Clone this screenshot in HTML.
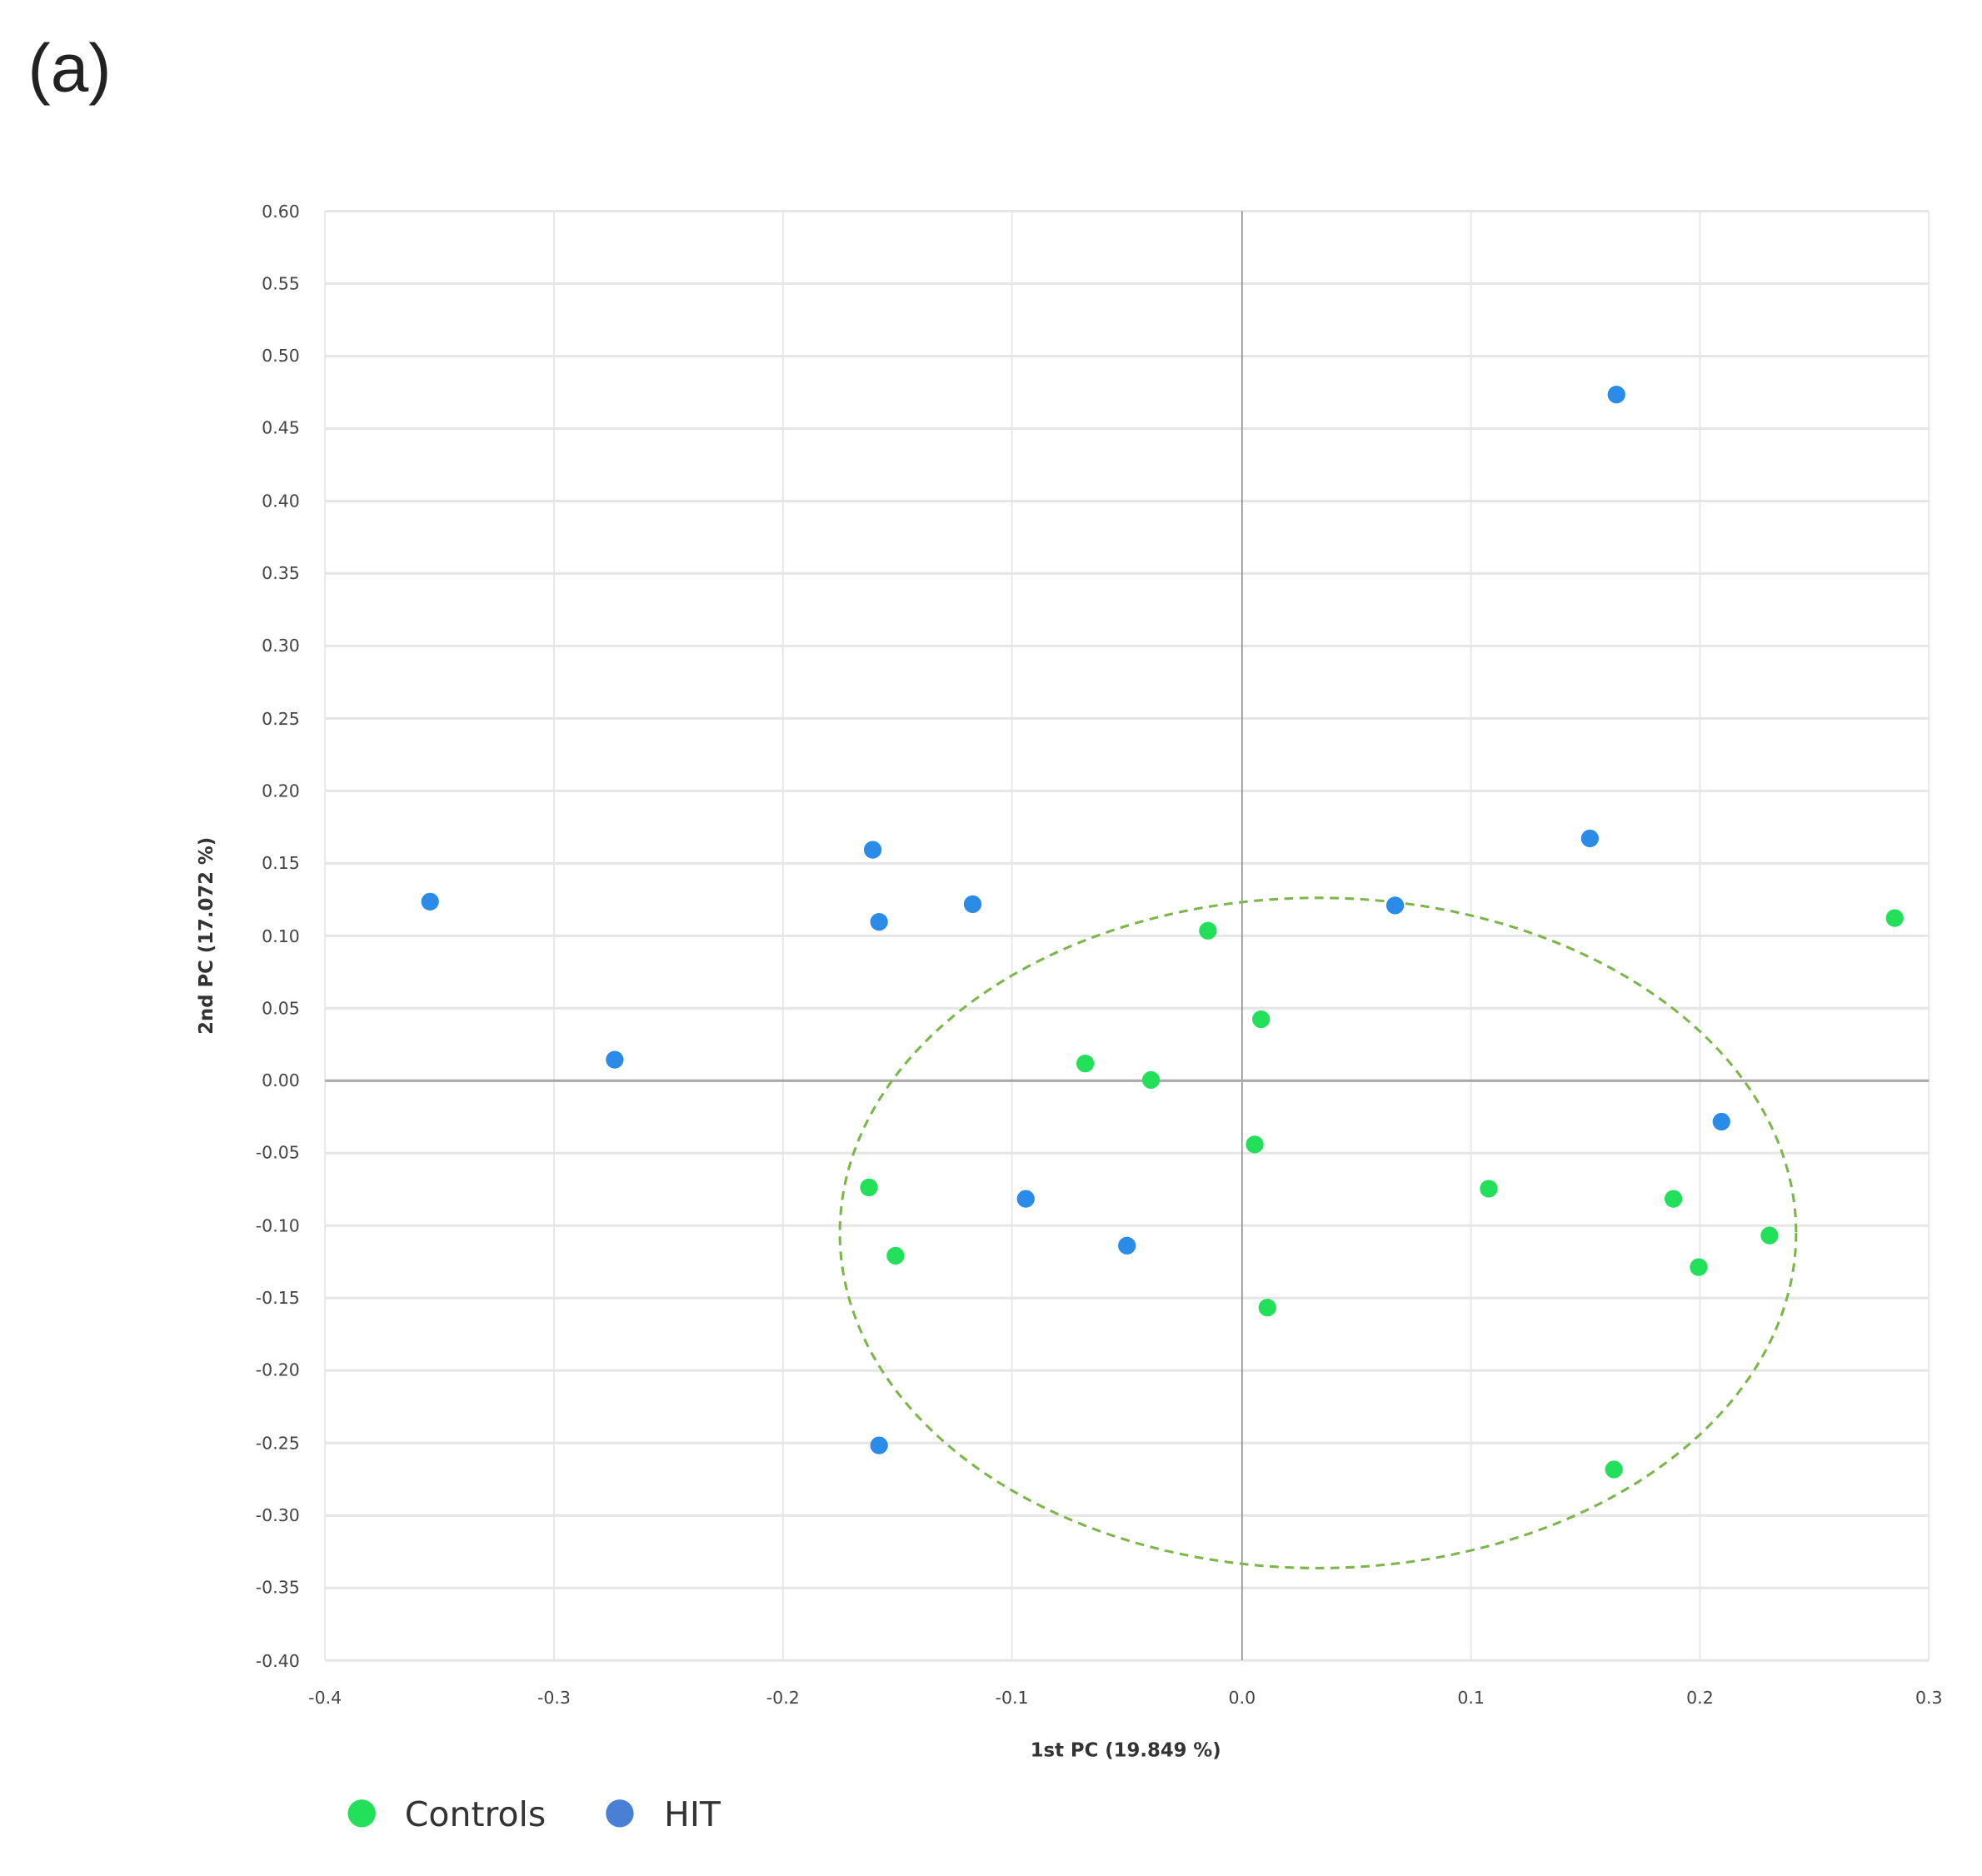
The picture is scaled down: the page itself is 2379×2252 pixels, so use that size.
<!DOCTYPE html>
<html><head><meta charset="utf-8"><style>html,body{margin:0;padding:0;background:#fff}svg{display:block}</style></head><body>
<svg width="2379" height="2252" viewBox="0 0 1567 1483.5" preserveAspectRatio="none" xmlns="http://www.w3.org/2000/svg" font-family="'DejaVu Sans','Liberation Sans',sans-serif">
<text x="22" y="72" font-size="54" font-family="'Liberation Sans',sans-serif" fill="#222">(a)</text>
<g stroke="#e6e6e6" stroke-width="2">
<line x1="257" y1="167" x2="1525" y2="167"/><line x1="257" y1="224.3" x2="1525" y2="224.3"/><line x1="257" y1="281.6" x2="1525" y2="281.6"/><line x1="257" y1="338.9" x2="1525" y2="338.9"/><line x1="257" y1="396.2" x2="1525" y2="396.2"/><line x1="257" y1="453.5" x2="1525" y2="453.5"/><line x1="257" y1="510.8" x2="1525" y2="510.8"/><line x1="257" y1="568.1" x2="1525" y2="568.1"/><line x1="257" y1="625.4" x2="1525" y2="625.4"/><line x1="257" y1="682.7" x2="1525" y2="682.7"/><line x1="257" y1="740" x2="1525" y2="740"/><line x1="257" y1="797.3" x2="1525" y2="797.3"/><line x1="257" y1="911.9" x2="1525" y2="911.9"/><line x1="257" y1="969.2" x2="1525" y2="969.2"/><line x1="257" y1="1026.5" x2="1525" y2="1026.5"/><line x1="257" y1="1083.8" x2="1525" y2="1083.8"/><line x1="257" y1="1141.1" x2="1525" y2="1141.1"/><line x1="257" y1="1198.4" x2="1525" y2="1198.4"/><line x1="257" y1="1255.7" x2="1525" y2="1255.7"/><line x1="257" y1="1313" x2="1525" y2="1313"/>
</g>
<g stroke="#e6e6e6" stroke-width="1.2">
<line x1="257" y1="167" x2="257" y2="1313"/><line x1="438" y1="167" x2="438" y2="1313"/><line x1="619" y1="167" x2="619" y2="1313"/><line x1="800" y1="167" x2="800" y2="1313"/><line x1="1163" y1="167" x2="1163" y2="1313"/><line x1="1344" y1="167" x2="1344" y2="1313"/><line x1="1525" y1="167" x2="1525" y2="1313"/>
</g>
<line x1="982" y1="167" x2="982" y2="1313" stroke="#888" stroke-width="1"/>
<line x1="257" y1="854.6" x2="1525" y2="854.6" stroke="#aaa" stroke-width="2"/>
<g font-size="13.5" fill="#444" text-anchor="end">
<text x="237" y="172">0.60</text><text x="237" y="229">0.55</text><text x="237" y="286">0.50</text><text x="237" y="343">0.45</text><text x="237" y="401">0.40</text><text x="237" y="458">0.35</text><text x="237" y="515">0.30</text><text x="237" y="573">0.25</text><text x="237" y="630">0.20</text><text x="237" y="687">0.15</text><text x="237" y="745">0.10</text><text x="237" y="802">0.05</text><text x="237" y="859">0.00</text><text x="237" y="916">-0.05</text><text x="237" y="974">-0.10</text><text x="237" y="1031">-0.15</text><text x="237" y="1088">-0.20</text><text x="237" y="1146">-0.25</text><text x="237" y="1203">-0.30</text><text x="237" y="1260">-0.35</text><text x="237" y="1318">-0.40</text>
</g>
<g font-size="13.5" fill="#444" text-anchor="middle">
<text x="257" y="1347">-0.4</text><text x="438" y="1347">-0.3</text><text x="619" y="1347">-0.2</text><text x="800" y="1347">-0.1</text><text x="982" y="1347">0.0</text><text x="1163" y="1347">0.1</text><text x="1344" y="1347">0.2</text><text x="1525" y="1347">0.3</text>
</g>
<text x="890" y="1389" font-size="15" font-weight="bold" fill="#333" text-anchor="middle">1st PC (19.849 %)</text>
<text transform="translate(168,740) rotate(-90)" font-size="15" font-weight="bold" fill="#333" text-anchor="middle">2nd PC (17.072 %)</text>
<ellipse cx="1042" cy="975" rx="378" ry="265" fill="none" stroke="#7ab648" stroke-width="2" stroke-dasharray="7,5"/>
<g fill="#2a8ce8">
<circle cx="340" cy="713" r="7"/><circle cx="486" cy="838" r="7"/><circle cx="690" cy="672" r="7"/><circle cx="695" cy="729" r="7"/><circle cx="769" cy="715" r="7"/><circle cx="811" cy="948" r="7"/><circle cx="891" cy="985" r="7"/><circle cx="695" cy="1143" r="7"/><circle cx="1103" cy="716" r="7"/><circle cx="1257" cy="663" r="7"/><circle cx="1278" cy="312" r="7"/><circle cx="1361" cy="887" r="7"/>
</g>
<g fill="#22e05a">
<circle cx="955" cy="736" r="7"/><circle cx="997" cy="806" r="7"/><circle cx="858" cy="841" r="7"/><circle cx="910" cy="854" r="7"/><circle cx="992" cy="905" r="7"/><circle cx="687" cy="939" r="7"/><circle cx="708" cy="993" r="7"/><circle cx="1002" cy="1034" r="7"/><circle cx="1177" cy="940" r="7"/><circle cx="1323" cy="948" r="7"/><circle cx="1343" cy="1002" r="7"/><circle cx="1399" cy="977" r="7"/><circle cx="1498" cy="726" r="7"/><circle cx="1276" cy="1162" r="7"/>
</g>
<circle cx="286" cy="1434" r="11" fill="#22e05a"/>
<text x="320" y="1444" font-size="27" fill="#333">Controls</text>
<circle cx="490" cy="1434" r="11" fill="#4a7fd6"/>
<text x="525" y="1444" font-size="27" fill="#333">HIT</text>
</svg>
</body></html>
